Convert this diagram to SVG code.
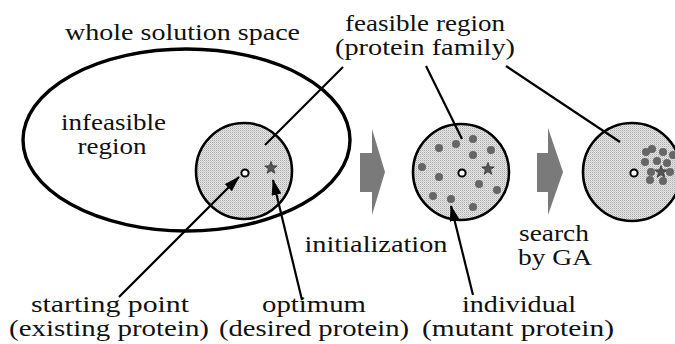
<svg xmlns="http://www.w3.org/2000/svg" width="675" height="344" viewBox="0 0 675 344">
<style>
text{font-family:"Liberation Serif","Times New Roman",serif;font-size:23px;fill:#111;text-anchor:middle}
.ln{stroke:#000;stroke-width:2.2;fill:none}
.fs{fill:url(#stip);stroke:#000;stroke-width:2.6}
.dot{fill:#666}
.st{fill:#555;stroke:#333;stroke-width:0.8}
.ring{fill:#fff;stroke:#000;stroke-width:2}
.fat{fill:#7a7a7a}
</style>
<defs>
<pattern id="stip" width="2" height="2" patternUnits="userSpaceOnUse">
<rect width="2" height="2" fill="#e6e6e6"/>
<rect width="1" height="1" fill="#aaaaaa"/>
<rect x="1" y="1" width="1" height="1" fill="#cccccc"/>
</pattern>
<marker id="ah" markerUnits="userSpaceOnUse" markerWidth="16" markerHeight="10" refX="15" refY="5" orient="auto">
<path d="M0,0 L16,5 L0,10 z" fill="#000"/>
</marker>
<polygon id="star" points="0,-6.5 1.59,-2.18 6.18,-2.01 2.57,0.83 3.82,5.26 0,2.7 -3.82,5.26 -2.57,0.83 -6.18,-2.01 -1.59,-2.18"/>
</defs>
<g id="solution-space">
<ellipse cx="186.5" cy="140" rx="163.5" ry="91" fill="none" stroke="#000" stroke-width="3.4"/>
<text x="182.5" y="40" textLength="235" lengthAdjust="spacingAndGlyphs">whole solution space</text>
<text x="113.5" y="130" textLength="105" lengthAdjust="spacingAndGlyphs">infeasible</text>
<text x="112" y="154" textLength="69" lengthAdjust="spacingAndGlyphs">region</text>
</g>

<g id="feasible-label">
<text x="425" y="31" textLength="160" lengthAdjust="spacingAndGlyphs">feasible region</text>
<text x="425" y="55" textLength="180" lengthAdjust="spacingAndGlyphs">(protein family)</text>
</g>

<g id="region-start">
<circle class="fs" cx="244" cy="171" r="48"/>
<circle class="ring" cx="245" cy="173" r="3.6"/>
<use href="#star" class="st" x="271" y="168"/>
</g>

<g id="arrow-init">
<polygon class="fat" points="360,153 372,153 372,129 385,172 372,215 372,192 360,192"/>
<text x="376" y="252" textLength="143" lengthAdjust="spacingAndGlyphs">initialization</text>
</g>

<g id="region-init">
<circle class="fs" cx="461" cy="172" r="48"/>
<circle class="dot" cx="439" cy="148" r="4"/>
<circle class="dot" cx="456" cy="144" r="4"/>
<circle class="dot" cx="473" cy="139" r="4"/>
<circle class="dot" cx="473" cy="155" r="4"/>
<circle class="dot" cx="491" cy="150" r="4"/>
<circle class="dot" cx="422" cy="167" r="4"/>
<circle class="dot" cx="439" cy="177" r="4"/>
<circle class="dot" cx="479" cy="184" r="4"/>
<circle class="dot" cx="497" cy="190" r="4"/>
<circle class="dot" cx="433" cy="196" r="4"/>
<circle class="dot" cx="451" cy="199" r="4"/>
<circle class="dot" cx="473" cy="207" r="4"/>
<circle class="ring" cx="462" cy="173" r="3.6"/>
<use href="#star" class="st" x="488" y="169"/>
</g>

<g id="arrow-ga">
<polygon class="fat" points="537,153 548,153 548,128 563,172 548,215 548,192 537,192"/>
<text x="554" y="241" textLength="70" lengthAdjust="spacingAndGlyphs">search</text>
<text x="555" y="265" textLength="74" lengthAdjust="spacingAndGlyphs">by GA</text>
</g>

<g id="region-ga">
<circle class="fs" cx="632" cy="172" r="49"/>
<use href="#star" class="st" x="661" y="172"/>
<circle class="dot" cx="646" cy="152" r="4"/>
<circle class="dot" cx="652" cy="149" r="4"/>
<circle class="dot" cx="663" cy="152" r="4"/>
<circle class="dot" cx="673" cy="155" r="4"/>
<circle class="dot" cx="645" cy="162" r="4"/>
<circle class="dot" cx="657" cy="161" r="4"/>
<circle class="dot" cx="667" cy="163" r="4"/>
<circle class="dot" cx="651" cy="172" r="4"/>
<circle class="dot" cx="670" cy="172" r="4"/>
<circle class="dot" cx="650" cy="180" r="4"/>
<circle class="dot" cx="663" cy="181" r="4"/>
<circle class="ring" cx="634" cy="173" r="3.6"/>
</g>

<g id="labels-bottom">
<text x="110" y="312" textLength="158" lengthAdjust="spacingAndGlyphs">starting point</text>
<text x="109" y="336" textLength="200" lengthAdjust="spacingAndGlyphs">(existing protein)</text>
<text x="314" y="312" textLength="104" lengthAdjust="spacingAndGlyphs">optimum</text>
<text x="314" y="336" textLength="190" lengthAdjust="spacingAndGlyphs">(desired protein)</text>
<text x="519" y="312" textLength="114" lengthAdjust="spacingAndGlyphs">individual</text>
<text x="518" y="336" textLength="192" lengthAdjust="spacingAndGlyphs">(mutant protein)</text>
</g>
<g id="connectors">
<line class="ln" x1="343" y1="67" x2="265" y2="145"/>
<line class="ln" x1="426" y1="66" x2="462" y2="139"/>
<line class="ln" x1="506" y1="66" x2="620" y2="142"/>
<line class="ln" x1="119" y1="297" x2="239" y2="177" marker-end="url(#ah)"/>
<line class="ln" x1="302" y1="300" x2="273" y2="180" marker-end="url(#ah)"/>
<line class="ln" x1="473" y1="295" x2="451" y2="206" marker-end="url(#ah)"/>
</g>
</svg>
